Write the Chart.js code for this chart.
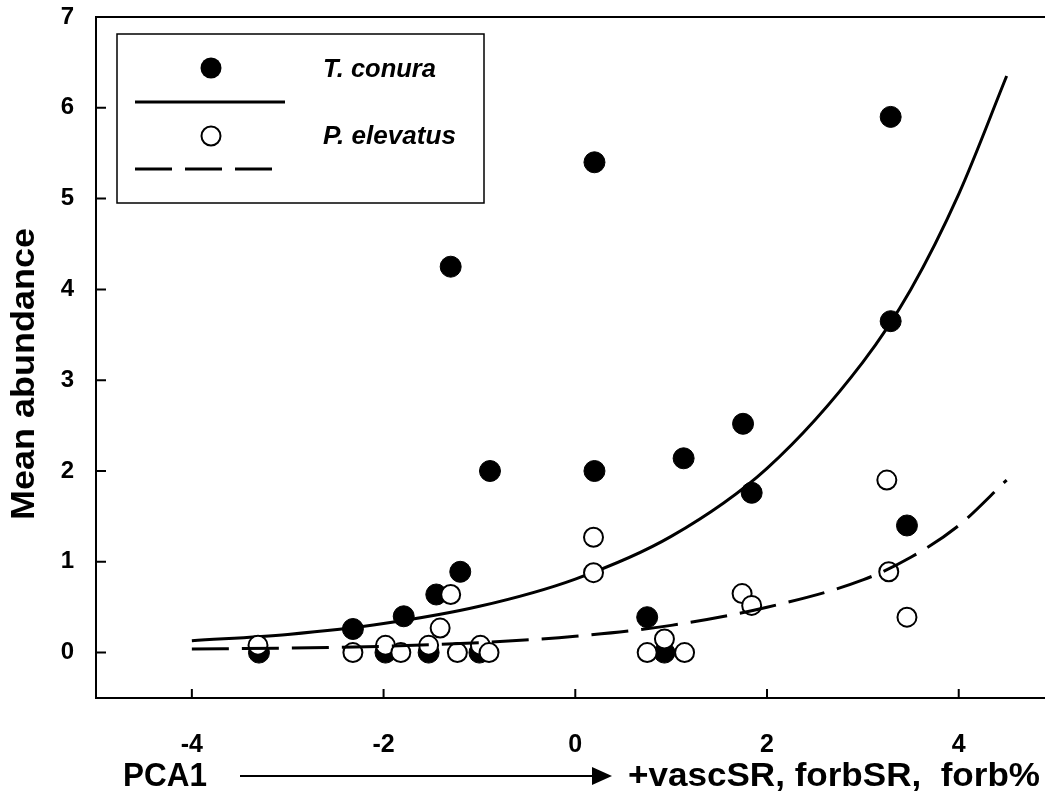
<!DOCTYPE html>
<html>
<head>
<meta charset="utf-8">
<script src="https://cdn.jsdelivr.net/npm/chart.js@4.4.1/dist/chart.umd.min.js"></script>
<style>
  html, body { margin: 0; padding: 0; background: #fff; overflow: hidden; }
  #wrap { width: 1045px; height: 800px; }
</style>
</head>
<body>
<div id="wrap"><canvas id="chart" width="1045" height="800"></canvas></div>
<script>
// tick labels
const xTicks = [-4, -2, 0, 2, 4];
const yTicks = [0, 1, 2, 3, 4, 5, 6, 7];

// T. conura (filled circles)
const conuraX = [-3.30, -2.32, -1.98, -1.79, -1.45, -1.53, -1.30, -1.20, -1.00, -0.89,
                 0.20, 0.20, 0.75, 0.93, 1.13, 1.75, 1.84, 3.29, 3.29, 3.46];
const conuraY = [0, 0.26, 0, 0.40, 0.64, 0, 4.25, 0.89, 0, 2.0,
                 5.4, 2.0, 0.39, 0, 2.14, 2.52, 1.76, 5.9, 3.65, 1.40];

// P. elevatus (open circles)
const elevatusX = [-3.31, -2.32, -1.98, -1.82, -1.53, -1.41, -1.30, -1.23, -0.99, -0.90,
                   0.19, 0.19, 0.75, 0.93, 1.14, 1.74, 1.84, 3.25, 3.27, 3.46];
const elevatusY = [0.08, 0, 0.08, 0, 0.08, 0.27, 0.64, 0, 0.08, 0,
                   1.27, 0.88, 0, 0.15, 0, 0.65, 0.52, 1.9, 0.89, 0.39];

// fitted curves
const fitX = [-4, -3, -2, -1, 0, 1, 2, 3, 3.5, 4, 4.5];
const conuraFit = [0.13, 0.20, 0.32, 0.51, 0.81, 1.28, 2.03, 3.20, 4.00, 5.05, 6.35];
const elevatusFit = [0.04, 0.05, 0.07, 0.11, 0.18, 0.30, 0.50, 0.80, 1.05, 1.40, 1.90];

const FONT = '"Liberation Sans", Arial, sans-serif';

const pts = (xs, ys) => xs.map((x, i) => ({ x: x, y: ys[i] }));

// draws text squeezed/stretched horizontally to a target width
function fitText(ctx, text, x, y, width, size, style) {
  ctx.save();
  ctx.font = (style || 'bold') + ' ' + size + 'px ' + FONT;
  const w = ctx.measureText(text).width;
  ctx.translate(x, y);
  ctx.scale(width / w, 1);
  ctx.textAlign = 'left';
  ctx.textBaseline = 'middle';
  ctx.fillText(text, 0, 0);
  ctx.restore();
}

const decor = {
  id: 'decor',
  afterDraw(chart) {
    const ctx = chart.ctx;
    const area = chart.chartArea;
    const xs = chart.scales.x, ys = chart.scales.y;
    ctx.save();
    ctx.strokeStyle = '#000';
    ctx.fillStyle = '#000';
    ctx.lineWidth = 2;

    // frame lines, running off the right edge like the original
    ctx.beginPath();
    ctx.moveTo(area.left, area.top);
    ctx.lineTo(1045, area.top);
    ctx.moveTo(area.left, area.bottom);
    ctx.lineTo(1045, area.bottom);
    ctx.stroke();

    // inward tick marks
    ctx.beginPath();
    yTicks.forEach(v => {
      const p = ys.getPixelForValue(v);
      ctx.moveTo(area.left, p);
      ctx.lineTo(area.left + 10, p);
    });
    xTicks.forEach(v => {
      const p = xs.getPixelForValue(v);
      ctx.moveTo(p, area.bottom);
      ctx.lineTo(p, area.bottom - 9);
    });
    ctx.stroke();

    // legend box
    ctx.lineWidth = 1.5;
    ctx.strokeRect(117, 34, 367, 169);
    ctx.beginPath();
    ctx.arc(211, 68, 10.5, 0, Math.PI * 2);
    ctx.fill();
    ctx.lineWidth = 3;
    ctx.beginPath();
    ctx.moveTo(135, 102);
    ctx.lineTo(285, 102);
    ctx.stroke();
    ctx.lineWidth = 2;
    ctx.beginPath();
    ctx.arc(211, 136, 9.5, 0, Math.PI * 2);
    ctx.stroke();
    ctx.lineWidth = 3;
    ctx.setLineDash([37, 13]);
    ctx.beginPath();
    ctx.moveTo(135, 169);
    ctx.lineTo(272, 169);
    ctx.stroke();
    ctx.setLineDash([]);
    fitText(ctx, 'T. conura', 323, 70, 113, 25, 'italic bold');
    fitText(ctx, 'P. elevatus', 323, 137, 133, 25, 'italic bold');

    // y axis title
    ctx.save();
    ctx.translate(25, 374);
    ctx.rotate(-Math.PI / 2);
    fitText(ctx, 'Mean abundance', -146, 0, 292, 34);
    ctx.restore();

    // bottom label with arrow
    fitText(ctx, 'PCA1', 123, 777, 84, 34);
    ctx.lineWidth = 2;
    ctx.beginPath();
    ctx.moveTo(240, 776);
    ctx.lineTo(596, 776);
    ctx.stroke();
    ctx.beginPath();
    ctx.moveTo(612, 776);
    ctx.lineTo(592, 767);
    ctx.lineTo(592, 785);
    ctx.closePath();
    ctx.fill();
    fitText(ctx, '+vascSR, forbSR,  forb%', 628, 777, 412, 34);
    ctx.restore();
  }
};

new Chart(document.getElementById('chart'), {
  type: 'scatter',
  data: {
    datasets: [
      {
        label: 'T. conura fit',
        data: pts(fitX, conuraFit),
        showLine: true,
        borderColor: '#000',
        borderWidth: 3,
        pointRadius: 0,
        cubicInterpolationMode: 'monotone',
        order: 4
      },
      {
        label: 'T. conura',
        data: pts(conuraX, conuraY),
        pointRadius: 10.5,
        pointBackgroundColor: '#000',
        pointBorderColor: '#000',
        pointBorderWidth: 1,
        order: 3
      },
      {
        label: 'P. elevatus',
        data: pts(elevatusX, elevatusY),
        pointRadius: 9.5,
        pointBackgroundColor: '#fff',
        pointBorderColor: '#000',
        pointBorderWidth: 2,
        order: 2
      },
      {
        label: 'P. elevatus fit',
        data: pts(fitX, elevatusFit),
        showLine: true,
        borderColor: '#000',
        borderWidth: 3,
        borderDash: [37, 13],
        pointRadius: 0,
        cubicInterpolationMode: 'monotone',
        order: 1
      }
    ]
  },
  options: {
    responsive: false,
    animation: false,
    layout: { padding: { top: 17, right: 0, left: 0, bottom: 0 } },
    plugins: {
      legend: { display: false },
      tooltip: { enabled: false }
    },
    scales: {
      x: {
        type: 'linear',
        min: -5,
        max: 4.78,
        grid: { display: false, drawTicks: false },
        border: { display: false },
        ticks: {
          color: '#000',
          padding: 32,
          font: { family: FONT, size: 25, weight: 'bold' }
        },
        afterBuildTicks: s => { s.ticks = xTicks.map(v => ({ value: v })); },
        afterFit: s => { s.height = 102; }
      },
      y: {
        type: 'linear',
        min: -0.5,
        max: 7,
        grid: { display: false, drawTicks: false },
        border: { display: true, color: '#000', width: 2 },
        ticks: {
          color: '#000',
          padding: 22,
          font: { family: FONT, size: 24, weight: 'bold' }
        },
        afterBuildTicks: s => { s.ticks = yTicks.map(v => ({ value: v })); },
        afterFit: s => { s.width = 96; s.paddingTop = 0; s.paddingBottom = 0; }
      }
    }
  },
  plugins: [decor]
});
</script>
</body>
</html>
